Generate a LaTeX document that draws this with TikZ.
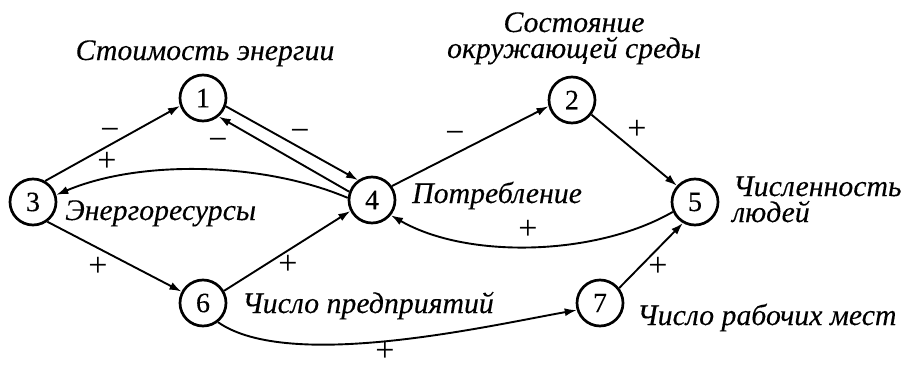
\documentclass[tikz,border=0pt]{standalone}
\usepackage{fontspec}
\setmainfont{Liberation Serif}
\newfontfamily\lblfont[FakeBold=0.25]{Liberation Serif}
\usetikzlibrary{arrows.meta}
\begin{document}
\begin{tikzpicture}[x=1pt,y=1pt,
  nd/.style={circle,draw,line width=2.7pt,minimum size=46pt,inner sep=0pt,font=\lblfont\fontsize{28}{28}\selectfont},
  lbl/.style={font=\lblfont\fontsize{29.8}{26}\selectfont\itshape,inner sep=0pt},
  sg/.style={font=\fontsize{34}{34}\selectfont,inner sep=0pt},
  ar/.style={line width=1.9pt,-{Latex[length=12pt,width=8pt]}}]
\useasboundingbox (0,0) rectangle (904,365);
\node[nd] (n1) at (203,267) {1};
\node[nd] (n2) at (572,265) {2};
\node[nd] (n3) at (33,163) {3};
\node[nd] (n4) at (372,165) {4};
\node[nd] (n5) at (695,163) {5};
\node[nd] (n6) at (203,62) {6};
\node[nd] (n7) at (600,62) {7};
% labels
\node[lbl,anchor=base] (t1) at (205,305) {Стоимость энергии};
\node[lbl,anchor=base,align=center] (t2) at (574,307) {Состояние\\окружающей среды};
\node[lbl,anchor=base west] (t3) at (65,145) {Энергоресурсы};
\node[lbl,anchor=base west] (t4) at (412,162) {Потребление};
\node[lbl,anchor=base west,align=left] (t5) at (733,143) {Численность\\\hspace*{-1pt}людей};
\node[lbl,anchor=base west] (t6) at (242,52) {Число предприятий};
\node[lbl,anchor=base west] (t7) at (637,40) {Число рабочих мест};
% edges
\draw[ar] (n3.60) -- (n1.199);
\draw[ar] (n1.-20) -- (n4.125);
\draw[ar] (n4.160) -- (n1.-50);
\draw[ar] (n4.175) to[out=157,in=23,looseness=0.8] (n3.17);
\draw[ar] (n3.-54) -- (n6.152);
\draw[ar] (n6.30) -- (n4.207);
\draw[ar] (n4.35) -- (n2.195);
\draw[ar] (n2.-37) -- (n5.138);
\draw[ar] (n5.204) to[out=210,in=-30,looseness=0.8] (n4.-39);
\draw[ar] (n7.38) -- (n5.240);
\draw[ar] (n6.-52) to[out=-35,in=190,looseness=0.62] (n7.197);
% signs
\node[sg] (s1) at (110,231) {−};
\node[sg] (s2) at (107,203) {+};
\node[sg] (s3) at (300,230) {−};
\node[sg] (s4) at (218,221) {−};
\node[sg] (s5) at (455,228) {−};
\node[sg] (s6) at (637,235) {+};
\node[sg] (s7) at (528,135) {+};
\node[sg] (s8) at (658,98) {+};
\node[sg] (s9) at (98,98) {+};
\node[sg] (s10) at (288,100) {+};
\node[sg] (s11) at (385,13) {+};
\end{tikzpicture}
\end{document}
